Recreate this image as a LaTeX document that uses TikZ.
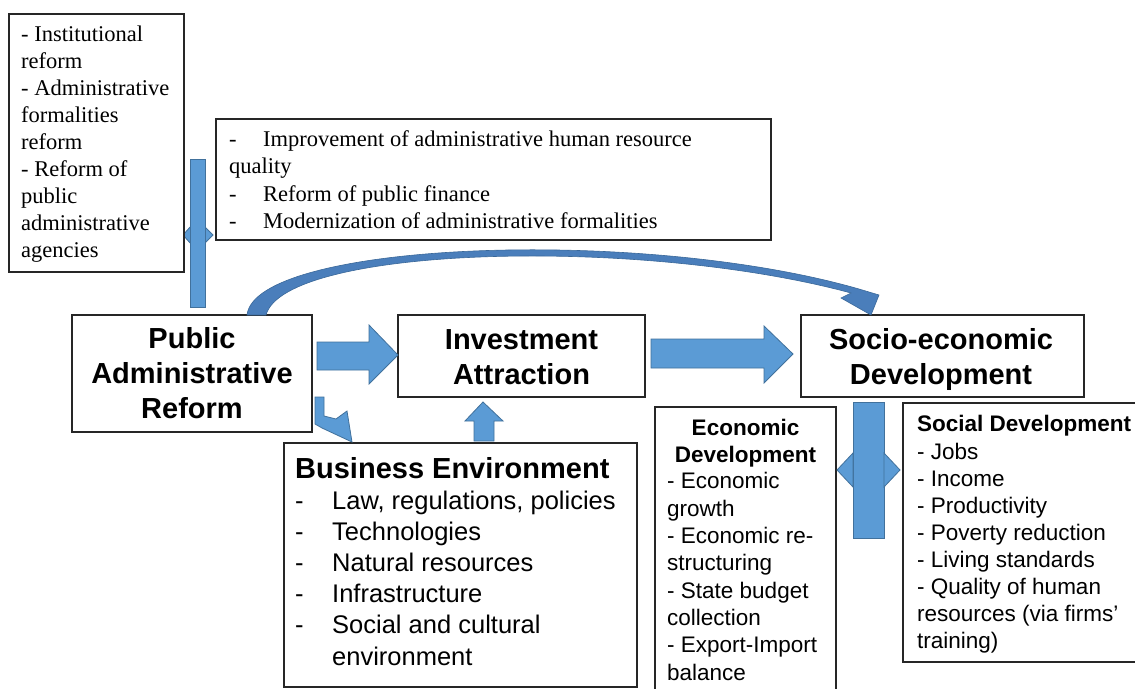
\documentclass[tikz,border=0pt]{standalone}
\usepackage{fontspec}
\setmainfont{Liberation Serif}
\setsansfont{Liberation Sans}
\definecolor{blk}{HTML}{5B9BD5}
\definecolor{blkedge}{HTML}{41719C}
\definecolor{curvefill}{HTML}{4A7EBB}
\definecolor{curveedge}{HTML}{3A6899}
\begin{document}
\begin{tikzpicture}[x=1pt,y=-1pt,
  box/.style={draw=black!85, line width=1.2pt, inner sep=0pt, fill=white},
  blkarrow/.style={fill=blk, draw=blkedge, line width=0.8pt, line join=miter},
  curvearrow/.style={fill=curvefill, draw=curveedge, line width=0.6pt},
  txt/.style={inner sep=0pt, align=left},
  serifbody/.style={font=\fontsize{22.5}{27}\selectfont\rmfamily},
  seriftop/.style={font=\fontsize{22.5}{27.5}\selectfont\rmfamily},
  bigtitle/.style={font=\fontsize{29}{35}\selectfont\sffamily\bfseries, inner sep=0pt, align=center},
  bustitle/.style={font=\fontsize{29}{35}\selectfont\sffamily\bfseries, inner sep=0pt},
  busbody/.style={font=\fontsize{25.5}{31.2}\selectfont\sffamily},
  smtitle/.style={font=\fontsize{22.5}{27}\selectfont\sffamily\bfseries, inner sep=0pt},
  smbody/.style={font=\fontsize{22.5}{27}\selectfont\sffamily},
  ecobody/.style={font=\fontsize{22.5}{27.3}\selectfont\sffamily}]
\useasboundingbox (0,0) rectangle (1135,688);
\clip (0,0) rectangle (1135,688);
\fill[white] (0,0) rectangle (1135,688);

% left vertical double arrow (behind boxes)
\fill[blkarrow] (183,235) -- (191,226) -- (191,231) -- (204,231) -- (204,226) -- (213,235) -- (204,244) -- (204,239) -- (191,239) -- (191,244) -- cycle;
\fill[blkarrow] (190,159) rectangle (205,307);

% boxes
\node[box, minimum width=175, minimum height=258] (tl) at (96.5,143) {};
\node[box, minimum width=555, minimum height=121] (tm) at (493.5,179.5) {};
\node[box, minimum width=240, minimum height=117] (par) at (192,373.5) {};
\node[box, minimum width=247, minimum height=82] (inv) at (521.5,356) {};
\node[box, minimum width=283, minimum height=82] (soc) at (942.5,356) {};
\node[box, minimum width=353, minimum height=244] (bus) at (460.5,565) {};
\node[box, minimum width=181, minimum height=290] (eco) at (745.5,552) {};
\node[box, minimum width=240, minimum height=259] (sd) at (1023,532.5) {};

% texts (base anchor = baseline of the last line)
\node[txt, serifbody, anchor=base west] (tltext) at (21,257)
  {- Institutional\\reform\\- Administrative\\formalities\\reform\\- Reform of\\public\\administrative\\agencies};
\node[txt, seriftop, anchor=base west] (tmtext) at (229,228.5)
  {\makebox[34pt][l]{-}Improvement of administrative human resource\\quality\\\makebox[34pt][l]{-}Reform of public finance\\\makebox[34pt][l]{-}Modernization of administrative formalities};
\node[bigtitle, anchor=base] (partext) at (192,418) {Public\\Administrative\\Reform};
\node[bigtitle, anchor=base] (invtext) at (521.5,384) {Investment\\Attraction};
\node[bigtitle, anchor=base] (soctext) at (941,384) {Socio-economic\\Development};
\node[bustitle, anchor=base west] (bustitle) at (295,478) {Business Environment};
\node[txt, busbody, anchor=base west] (bustext) at (295,665)
  {\makebox[37pt][l]{-}Law, regulations, policies\\\makebox[37pt][l]{-}Technologies\\\makebox[37pt][l]{-}Natural resources\\\makebox[37pt][l]{-}Infrastructure\\\makebox[37pt][l]{-}Social and cultural\\\hspace*{37pt}environment};
\node[smtitle, align=center, anchor=base] (ecotitle) at (745.5,462) {Economic\\Development};
\node[txt, ecobody, anchor=base west] (ecotext) at (667,680)
  {- Economic\\growth\\- Economic re-\\structuring\\- State budget\\collection\\- Export-Import\\balance};
\node[smtitle, anchor=base west] (sdtitle) at (917,431) {Social Development};
\node[txt, smbody, anchor=base west] (sdtext) at (917,648)
  {- Jobs\\- Income\\- Productivity\\- Poverty reduction\\- Living standards\\- Quality of human\\resources (via firms’\\training)};

% block arrows
\fill[blkarrow] (317,342) -- (369,342) -- (369,325) -- (398,355) -- (369,384) -- (369,370) -- (317,370) -- cycle;
\fill[blkarrow] (651,339) -- (764,339) -- (764,326) -- (793,354) -- (764,383) -- (764,368) -- (651,368) -- cycle;
\fill[blkarrow] (474,441) -- (474,421) -- (465,421) -- (483,402) -- (503,421) -- (494,421) -- (494,441) -- cycle;
\fill[blkarrow] (315,397) -- (324,397) -- (324,416) -- (336,419) -- (347,411) -- (352,442) -- (322,428) -- (315,424) -- cycle;

% right vertical double arrow
\fill[blkarrow] (853,402) rectangle (884,538);
\fill[blkarrow] (853,453) -- (837,470) -- (853,487) -- cycle;
\fill[blkarrow] (884,453) -- (900,470) -- (884,487) -- cycle;

% curved arrow
\fill[curvearrow] (247,315) .. controls (255,242) and (640,226) .. (859,289)
  -- (879,295) -- (871,315) -- (841,298) -- (851,293)
  .. controls (640,236) and (285,246) .. (266,315) -- cycle;
\end{tikzpicture}
\end{document}
